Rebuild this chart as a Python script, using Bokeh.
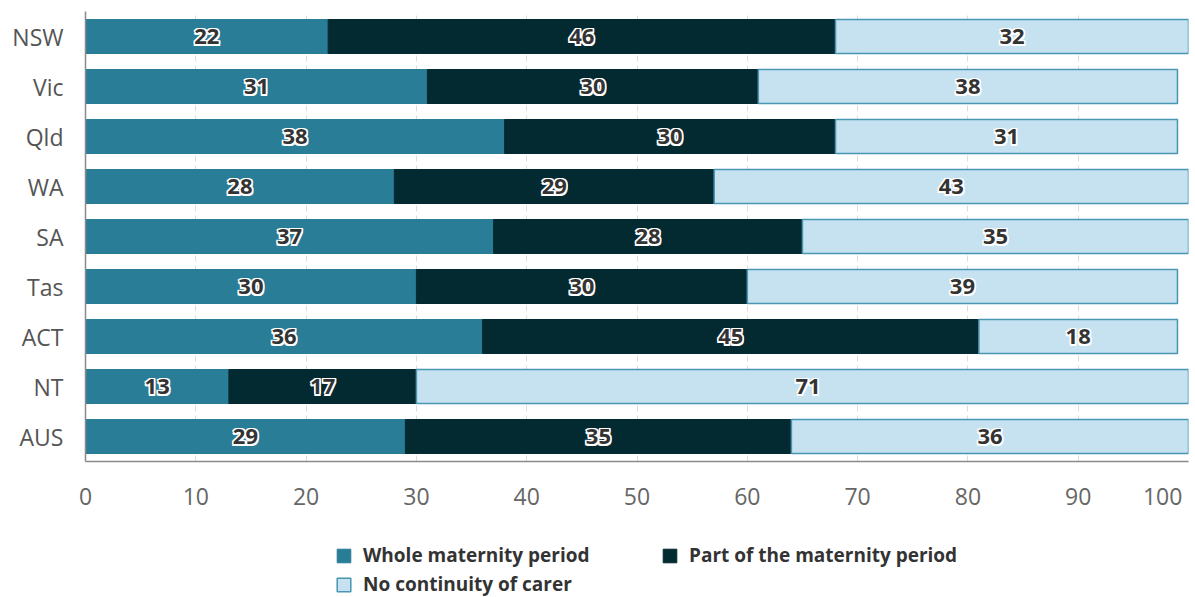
from bokeh.plotting import figure
from bokeh.layouts import column
from bokeh.models import ColumnDataSource, Legend, LegendItem, FixedTicker, Range1d, FactorRange
from bokeh.core.properties import value
from bokeh.embed import file_html
from bokeh.resources import INLINE

categories = ["NSW", "Vic", "Qld", "WA", "SA", "Tas", "ACT", "NT", "AUS"]
whole = [22, 31, 38, 28, 37, 30, 36, 13, 29]
part = [46, 30, 30, 29, 28, 30, 45, 17, 35]
no_cont = [32, 38, 31, 43, 35, 39, 18, 71, 36]
series_names = ["Whole maternity period", "Part of the maternity period", "No continuity of carer"]
x_ticks = [0, 10, 20, 30, 40, 50, 60, 70, 80, 90, 100]

C_WHOLE = "#2a7d97"
C_PART = "#042a31"
C_NONE = "#c6e2f0"
C_NONE_LINE = "#4a96b2"
FONT = "Open Sans"

w_end = whole
p_end = [a + b for a, b in zip(whole, part)]
n_end = [a + b + c for a, b, c in zip(whole, part, no_cont)]

src = ColumnDataSource(dict(
    cat=categories,
    w0=[0] * len(categories), w1=w_end,
    p0=w_end, p1=p_end,
    n0=p_end, n1=n_end,
    wmid=[w / 2 for w in whole],
    pmid=[a + b / 2 for a, b in zip(whole, part)],
    nmid=[a + b + c / 2 for a, b, c in zip(whole, part, no_cont)],
    wlab=[str(v) for v in whole],
    plab=[str(v) for v in part],
    nlab=[str(v) for v in no_cont],
))

p = figure(width=1195, height=530, y_range=list(reversed(categories)), x_range=(0, 100),
           output_backend="svg", toolbar_location=None,
           min_border_left=85, min_border_right=7, min_border_top=11, min_border_bottom=69)
p.outline_line_color = None

p.hbar(y="cat", left="w0", right="w1", height=0.68, source=src,
       fill_color=C_WHOLE, line_color=C_WHOLE, line_width=1)
p.hbar(y="cat", left="p0", right="p1", height=0.68, source=src,
       fill_color=C_PART, line_color=C_PART, line_width=1)
p.hbar(y="cat", left="n0", right="n1", height=0.68, source=src,
       fill_color=C_NONE, line_color=C_NONE_LINE, line_width=1.5)

# segment labels with a white halo
offsets = [(-1.5, -1.5), (0, -1.5), (1.5, -1.5), (-1.5, 0), (1.5, 0), (-1.5, 1.5), (0, 1.5), (1.5, 1.5)]
for xcol, tcol in [("wmid", "wlab"), ("pmid", "plab"), ("nmid", "nlab")]:
    for dx, dy in offsets:
        p.text(x=xcol, y="cat", text=tcol, source=src, x_offset=dx, y_offset=dy,
               text_align="center", text_baseline="middle", text_color="white",
               text_font=value(FONT), text_font_style="bold", text_font_size="22px")
    p.text(x=xcol, y="cat", text=tcol, source=src,
           text_align="center", text_baseline="middle", text_color="#333333",
           text_font=value(FONT), text_font_style="bold", text_font_size="22px")

# axes
p.xaxis.ticker = FixedTicker(ticks=x_ticks)
# last tick label padded so that it stays inside the window
p.xaxis.major_label_overrides = {x_ticks[-1]: str(x_ticks[-1]) + "\u2007"}
p.xaxis.major_tick_line_color = None
p.xaxis.minor_tick_line_color = None
p.xaxis.major_tick_out = 0
p.xaxis.major_label_standoff = 18
p.xaxis.axis_line_color = "#8a8a8a"
p.xaxis.axis_line_width = 1.5
p.xaxis.major_label_text_font = FONT
p.xaxis.major_label_text_font_size = "23px"
p.xaxis.major_label_text_color = "#666666"

p.yaxis.major_tick_line_color = None
p.yaxis.minor_tick_line_color = None
p.yaxis.major_tick_out = 0
p.yaxis.major_label_standoff = 22
p.yaxis.axis_line_color = "#8a8a8a"
p.yaxis.axis_line_width = 1.5
p.yaxis.major_label_text_font = FONT
p.yaxis.major_label_text_font_size = "23px"
p.yaxis.major_label_text_color = "#555555"

p.ygrid.grid_line_color = None
p.xgrid.ticker = FixedTicker(ticks=x_ticks)
p.xgrid.grid_line_color = "#dddddd"
p.xgrid.grid_line_dash = "6 4"

# legend in its own strip below the chart; its glyph renderers are hidden,
# only their legend swatches are drawn
lg = figure(width=1195, height=67, x_range=Range1d(0, 100), y_range=FactorRange(factors=categories),
            output_backend="svg", toolbar_location=None,
            x_axis_location=None, y_axis_location=None,
            min_border_left=0, min_border_right=0, min_border_top=0, min_border_bottom=0)
lg.outline_line_color = None
lg.grid.visible = False
k1 = lg.hbar(y="cat", left="w0", right="w1", height=0.68, source=src,
             fill_color=C_WHOLE, line_color=C_WHOLE, line_width=1, visible=False)
k2 = lg.hbar(y="cat", left="p0", right="p1", height=0.68, source=src,
             fill_color=C_PART, line_color=C_PART, line_width=1, visible=False)
k3 = lg.hbar(y="cat", left="n0", right="n1", height=0.68, source=src,
             fill_color=C_NONE, line_color=C_NONE_LINE, line_width=1.5, visible=False)

legend = Legend(items=[LegendItem(label=series_names[0], renderers=[k1]),
                       LegendItem(label=series_names[1], renderers=[k2]),
                       LegendItem(label=series_names[2], renderers=[k3])],
                orientation="horizontal", ncols=2, location=(250, 0),
                label_text_font=FONT, label_text_font_size="19px", label_text_font_style="bold",
                label_text_color="#333333", glyph_width=17, glyph_height=17,
                label_standoff=11, label_width=295, label_height=19, spacing=3, padding=0,
                margin=0, border_line_color=None, background_fill_alpha=0,
                inactive_fill_alpha=0)
lg.add_layout(legend, "center")

layout = column(p, lg, spacing=0)
open("out.html", "w").write(file_html(layout, INLINE))
